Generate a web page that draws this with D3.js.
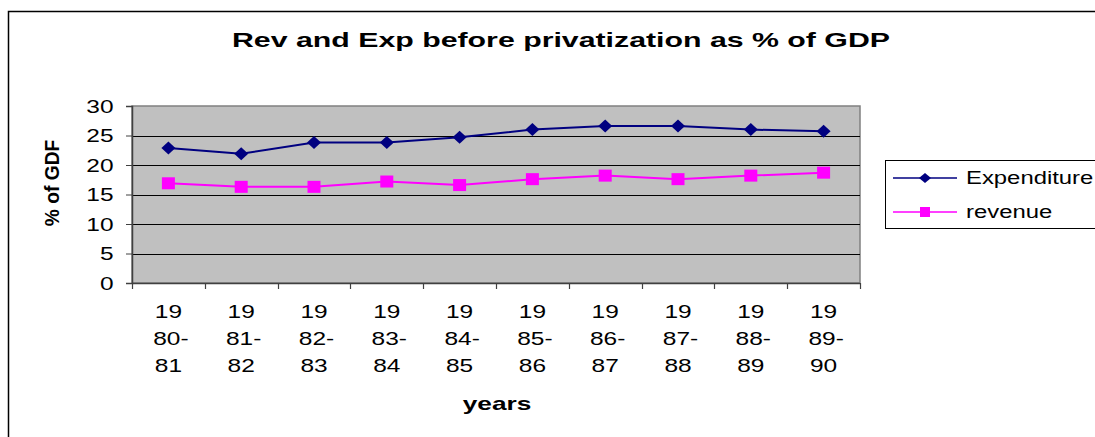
<!DOCTYPE html>
<html>
<head>
<meta charset="utf-8">
<script src="https://cdn.jsdelivr.net/npm/d3@7"></script>
<style>
  html, body { margin: 0; padding: 0; background: #fff; }
  svg { display: block; font-family: "Liberation Sans", Arial, sans-serif; }
</style>
</head>
<body>
<svg id="chart" width="1095" height="437"></svg>
<script>
// Fiscal years, split into three lines as drawn under the axis
const years = ["1980-81","1981-82","1982-83","1983-84","1984-85","1985-86","1986-87","1987-88","1988-89","1989-90"];
const yearLines = [
  ["19","80-","81"],["19","81-","82"],["19","82-","83"],["19","83-","84"],["19","84-","85"],
  ["19","85-","86"],["19","86-","87"],["19","87-","88"],["19","88-","89"],["19","89-","90"]
];
const expenditure = [22.9, 21.9, 23.8, 23.8, 24.7, 26.0, 26.6, 26.6, 26.0, 25.7];
const revenue     = [16.9, 16.3, 16.3, 17.2, 16.6, 17.6, 18.2, 17.6, 18.2, 18.7];
const yTicks = [0, 5, 10, 15, 20, 25, 30];
const seriesNames = ["Expenditure", "revenue"];

const svg = d3.select("#chart");

// text drawn with a wide horizontal stretch, anchored at (px, py)
function wideText(parent, px, py, str, opts) {
  const o = Object.assign({ size: 17.5, sx: 1.4, sy: 1, anchor: "start", weight: "normal", rotate: 0 }, opts || {});
  return parent.append("text")
    .attr("transform", `translate(${px},${py}) rotate(${o.rotate}) scale(${o.sx},${o.sy})`)
    .attr("text-anchor", o.anchor)
    .attr("font-size", o.size)
    .attr("font-weight", o.weight)
    .attr("fill", "#000")
    .text(str);
}

// outer chart frame
svg.append("rect")
  .attr("x", 8.5).attr("y", 11.5).attr("width", 1100).attr("height", 440)
  .attr("fill", "#fff").attr("stroke", "#000").attr("stroke-width", 1.5);

const plot = { left: 132, right: 860, top: 106, bottom: 283 };

const x = d3.scaleBand().domain(years).range([plot.left, plot.right]);
const y = d3.scaleLinear().domain([0, 30]).range([plot.bottom, plot.top]);

// plot area
svg.append("rect")
  .attr("x", plot.left).attr("y", plot.top)
  .attr("width", plot.right - plot.left).attr("height", plot.bottom - plot.top)
  .attr("fill", "#c0c0c0").attr("stroke", "#808080").attr("stroke-width", 1.5);

// horizontal gridlines
svg.append("g").selectAll("line")
  .data(yTicks.filter(d => d > 0 && d < 30))
  .join("line")
  .attr("x1", plot.left).attr("x2", plot.right)
  .attr("y1", d => Math.round(y(d)) + 0.5).attr("y2", d => Math.round(y(d)) + 0.5)
  .attr("stroke", "#000").attr("stroke-width", 1);

// y axis line and ticks
const yAxis = svg.append("g")
  .attr("transform", `translate(${plot.left},0)`)
  .call(d3.axisLeft(y).tickValues(yTicks).tickSize(6).tickFormat(""));
yAxis.select(".domain").attr("stroke", "#404040").attr("stroke-width", 1.5);
yAxis.selectAll(".tick line").attr("stroke", "#404040");
yTicks.forEach(t => wideText(svg, 113.5, y(t) + 6.5, d3.format("d")(t), { anchor: "end" }));

// x axis with ticks between categories
const xAxis = svg.append("g")
  .attr("transform", `translate(0,${plot.bottom})`);
xAxis.append("line")
  .attr("x1", plot.left).attr("x2", plot.right)
  .attr("y1", 0.5).attr("y2", 0.5)
  .attr("stroke", "#404040").attr("stroke-width", 1.5);
const bounds = years.map(d => x(d)).concat([x(years[years.length - 1]) + x.bandwidth()]);
xAxis.selectAll("line.tick")
  .data(bounds)
  .join("line")
  .attr("class", "tick")
  .attr("x1", d => Math.round(d) + 0.5).attr("x2", d => Math.round(d) + 0.5)
  .attr("y1", 0).attr("y2", 6)
  .attr("stroke", "#404040").attr("stroke-width", 1.2);

years.forEach((d, i) => {
  const c = x(d) + x.bandwidth() / 2;
  yearLines[i].forEach((s, k) => {
    wideText(xAxis, c + (k === 1 ? 2.5 : 0), 35 + k * 27, s, { anchor: "middle" });
  });
});

// axis titles
wideText(svg, 497, 410, "years", { anchor: "middle", weight: "bold", sx: 1.5 });
wideText(svg, 59, 183, "% of GDF", { anchor: "middle", weight: "bold", rotate: -90, sx: 1.1, sy: 1.15 });

// chart title
svg.append("text")
  .attr("x", 232).attr("y", 47)
  .attr("font-size", 21).attr("font-weight", "bold")
  .attr("textLength", 658).attr("lengthAdjust", "spacingAndGlyphs")
  .text("Rev and Exp before privatization as % of GDP");

// series
const cx = d => x(d) + x.bandwidth() / 2;
const line = d3.line().x((v, i) => cx(years[i])).y(v => y(v));

const drawDiamond = (g, px, py) => g.append("path")
  .attr("d", "M0,-6.5L7,0L0,6.5L-7,0Z")
  .attr("transform", `translate(${px},${py})`)
  .attr("fill", "#000080");
const drawSquare = (g, px, py) => g.append("rect")
  .attr("x", px - 6.5).attr("y", py - 6).attr("width", 13).attr("height", 12)
  .attr("fill", "#ff00ff");

const gExp = svg.append("g");
gExp.append("path").datum(expenditure)
  .attr("d", line).attr("fill", "none")
  .attr("stroke", "#000080").attr("stroke-width", 2);
expenditure.forEach((v, i) => drawDiamond(gExp, cx(years[i]), y(v)));

const gRev = svg.append("g");
gRev.append("path").datum(revenue)
  .attr("d", line).attr("fill", "none")
  .attr("stroke", "#ff00ff").attr("stroke-width", 2);
revenue.forEach((v, i) => drawSquare(gRev, cx(years[i]), y(v)));

// legend
const leg = svg.append("g");
leg.append("rect")
  .attr("x", 885.5).attr("y", 160.5).attr("width", 220).attr("height", 68)
  .attr("fill", "#fff").attr("stroke", "#000").attr("stroke-width", 1);
const legRows = [
  { name: seriesNames[0], color: "#000080", y: 178, diamond: true },
  { name: seriesNames[1], color: "#ff00ff", y: 212, diamond: false }
];
legRows.forEach(r => {
  leg.append("line")
    .attr("x1", 893).attr("x2", 957).attr("y1", r.y).attr("y2", r.y)
    .attr("stroke", r.color).attr("stroke-width", 1.5);
  if (r.diamond) {
    leg.append("path").attr("d", "M0,-5L6,0L0,5L-6,0Z")
      .attr("transform", `translate(925,${r.y})`).attr("fill", r.color);
  } else {
    leg.append("rect").attr("x", 920).attr("y", r.y - 5).attr("width", 10).attr("height", 10)
      .attr("fill", r.color);
  }
  wideText(leg, 966, r.y + 5.5, r.name, { size: 18.5, sx: 1.29 });
});
</script>
</body>
</html>
